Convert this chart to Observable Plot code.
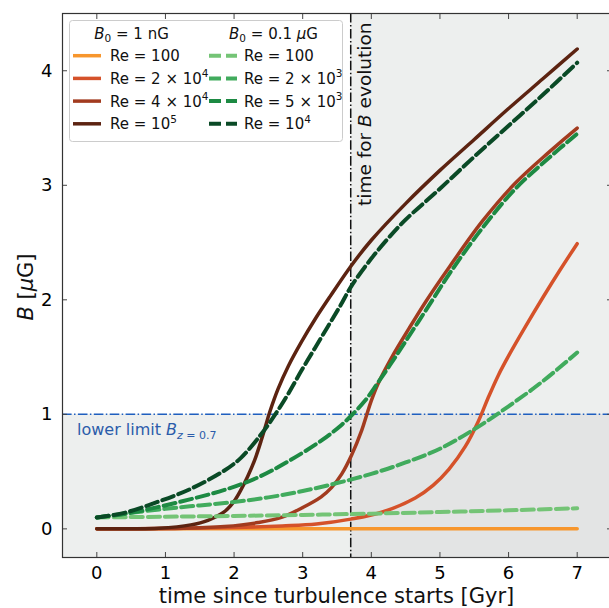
<!DOCTYPE html>
<html>
<head>
<meta charset="utf-8">
<script src="https://cdn.jsdelivr.net/npm/d3@7"></script>
<script src="https://cdn.jsdelivr.net/npm/@observablehq/plot@0.6"></script>
<style>
  html, body { margin: 0; padding: 0; background: #fff; overflow: hidden; }
  #chart svg { font-family: "DejaVu Sans", sans-serif; display: block; }
</style>
</head>
<body>
<div id="chart"></div>
<script>
// ---------- axes ----------
const xTicks = [0, 1, 2, 3, 4, 5, 6, 7];
const yTicks = [0, 1, 2, 3, 4];
const xDomain = [-0.5, 7.5];
const yDomain = [-0.25, 4.5];
const tEvol = 3.7;     // time for B evolution [Gyr]
const bLimit = 1;      // lower limit B_{z=0.7} [muG]

// ---------- B0 = 1 nG (solid) ----------
const t_1nG_re100 = [0, 1, 2, 3, 4, 5, 6, 7];
const b_1nG_re100 = [0, 0, 0, 0, 0, 0, 0, 0];

const t_1nG_re2e4 = [0, 1, 2, 2.7, 3.2, 3.7, 4.15, 4.64, 4.9, 5.13, 5.37, 5.56, 5.7, 5.85, 6.0, 6.25, 6.5, 6.75, 7];
const b_1nG_re2e4 = [0, 0.003, 0.012, 0.026, 0.042, 0.085, 0.145, 0.27, 0.38, 0.52, 0.72, 0.94, 1.14, 1.34, 1.51, 1.77, 2.02, 2.26, 2.49];

const t_1nG_re4e4 = [0, 1, 1.5, 1.86, 2.35, 2.69, 2.98, 3.27, 3.42, 3.57, 3.71, 3.86, 3.93, 4.0, 4.1, 4.3, 4.55, 4.8, 5.13, 5.61, 6.1, 6.59, 7];
const b_1nG_re4e4 = [0, 0.003, 0.01, 0.02, 0.055, 0.1, 0.18, 0.28, 0.36, 0.48, 0.64, 0.86, 0.99, 1.12, 1.27, 1.5, 1.75, 1.99, 2.28, 2.68, 3.02, 3.29, 3.5];

const t_1nG_re1e5 = [0, 0.5, 0.9, 1.37, 1.62, 1.86, 2.0, 2.1, 2.2, 2.3, 2.4, 2.45, 2.52, 2.64, 2.79, 2.98, 3.18, 3.4, 3.71, 4.0, 4.5, 5.0, 5.5, 6.0, 6.5, 7];
const b_1nG_re1e5 = [0, 0.001, 0.005, 0.035, 0.075, 0.15, 0.24, 0.34, 0.46, 0.6, 0.78, 0.88, 1.02, 1.22, 1.42, 1.63, 1.83, 2.03, 2.30, 2.52, 2.84, 3.13, 3.40, 3.67, 3.93, 4.19];

// ---------- B0 = 0.1 muG (dashed) ----------
const t_01uG_re100 = [0, 1, 2, 3, 4, 5, 6, 7];
const b_01uG_re100 = [0.1, 0.106, 0.113, 0.122, 0.133, 0.147, 0.162, 0.18];

const t_01uG_re2e3 = [0, 0.5, 1, 1.5, 2, 2.5, 3, 3.5, 4, 4.5, 5, 5.5, 6, 6.5, 7];
const b_01uG_re2e3 = [0.1, 0.14, 0.175, 0.205, 0.235, 0.275, 0.33, 0.40, 0.48, 0.58, 0.70, 0.87, 1.07, 1.29, 1.54];

const t_01uG_re5e3 = [0, 0.4, 0.885, 1.37, 1.86, 2.35, 2.79, 3.27, 3.57, 3.71, 3.91, 4.1, 4.35, 4.6, 4.85, 5.13, 5.61, 6.1, 6.59, 7];
const b_01uG_re5e3 = [0.1, 0.13, 0.19, 0.26, 0.34, 0.45, 0.59, 0.77, 0.91, 0.99, 1.12, 1.28, 1.50, 1.73, 1.96, 2.22, 2.62, 2.97, 3.24, 3.45];

const t_01uG_re1e4 = [0, 0.4, 0.885, 1.37, 1.86, 2.1, 2.4, 2.59, 2.79, 2.98, 3.18, 3.37, 3.55, 3.71, 4.0, 4.25, 4.5, 5.0, 5.5, 6.0, 6.5, 7];
const b_01uG_re1e4 = [0.099, 0.14, 0.235, 0.35, 0.51, 0.62, 0.83, 0.99, 1.18, 1.38, 1.58, 1.77, 1.95, 2.12, 2.36, 2.54, 2.70, 2.97, 3.25, 3.52, 3.79, 4.07];

// ---------- legend labels ----------
const legendTitles = ["1 nG", "0.1 μG"];
const labels_1nG = [["Re = 100", ""], ["Re = 2 × 10", "4"], ["Re = 4 × 10", "4"], ["Re = 10", "5"]];
const labels_01uG = [["Re = 100", ""], ["Re = 2 × 10", "3"], ["Re = 5 × 10", "3"], ["Re = 10", "4"]];

const colors_1nG = ["#f7962d", "#d5522a", "#a23b1f", "#5c2311"];
const colors_01uG = ["#74c476", "#41ab5d", "#1d8a43", "#0a4a26"];

const series_1nG = [
  [t_1nG_re100, b_1nG_re100], [t_1nG_re2e4, b_1nG_re2e4],
  [t_1nG_re4e4, b_1nG_re4e4], [t_1nG_re1e5, b_1nG_re1e5]
];
const series_01uG = [
  [t_01uG_re100, b_01uG_re100], [t_01uG_re2e3, b_01uG_re2e3],
  [t_01uG_re5e3, b_01uG_re5e3], [t_01uG_re1e4, b_01uG_re1e4]
];

const toRows = ([t, b]) => t.map((v, i) => ({t: v, B: b[i]}));
const dash = "12,5";
const dashDot = "9.6,2.4,1.5,2.4";
const lwSolid = 3.5;
const lwDash = 4;

const solidMarks = series_1nG.map((s, i) =>
  Plot.line(toRows(s), {x: "t", y: "B", stroke: colors_1nG[i], strokeWidth: lwSolid, curve: "catmull-rom"}));
const dashMarks = series_01uG.map((s, i) =>
  Plot.line(toRows(s), {x: "t", y: "B", stroke: colors_01uG[i], strokeWidth: lwDash, strokeDasharray: dash, curve: "catmull-rom"}));

const shadeLight = "#edefee";
const shadeDark = "#e3e4e4";

const plot = Plot.plot({
  width: 611,
  height: 608,
  marginLeft: 62,
  marginRight: 0,
  marginTop: 13,
  marginBottom: 51,
  style: {fontFamily: "DejaVu Sans, sans-serif", fontSize: "18px", color: "#000", background: "#fff"},
  x: {domain: xDomain, label: null},
  y: {domain: yDomain, label: null},
  marks: [
    Plot.rect([0], {x1: tEvol, x2: xDomain[1], y1: bLimit, y2: yDomain[1], fill: shadeLight}),
    Plot.rect([0], {x1: xDomain[0], x2: tEvol, y1: yDomain[0], y2: bLimit, fill: shadeLight}),
    Plot.rect([0], {x1: tEvol, x2: xDomain[1], y1: yDomain[0], y2: bLimit, fill: shadeDark}),
    Plot.ruleY([bLimit], {stroke: "#1f5fbf", strokeWidth: 1.5, strokeDasharray: dashDot}),
    Plot.ruleX([tEvol], {stroke: "#111", strokeWidth: 1.5, strokeDasharray: dashDot}),
    ...solidMarks,
    ...dashMarks,
    Plot.axisX({anchor: "bottom", ticks: xTicks, tickSize: -5, tickPadding: 14, tickFormat: d3.format("d"), label: null, stroke: "#444"}),
    Plot.axisX({anchor: "top", ticks: xTicks, tickSize: -5, tickFormat: () => "", label: null, stroke: "#444"}),
    Plot.axisY({anchor: "left", ticks: yTicks, tickSize: -5, tickPadding: 15, tickFormat: d3.format("d"), label: null, stroke: "#444"}),
    Plot.axisY({anchor: "right", ticks: yTicks, tickSize: -5, tickFormat: () => "", label: null, stroke: "#444"}),
    Plot.frame({stroke: "#333", strokeWidth: 1.2})
  ]
});
plot.style.maxWidth = "none";
document.getElementById("chart").appendChild(plot);

// ---------- annotations, axis labels and legend ----------
const svg = d3.select(plot);
const sx = plot.scale("x"), sy = plot.scale("y");
const font = "DejaVu Sans, sans-serif";

// x label
svg.append("text").attr("x", (sx.apply(xDomain[0]) + sx.apply(xDomain[1])) / 2).attr("y", 603)
  .attr("text-anchor", "middle").attr("font-family", font).attr("font-size", 21).attr("fill", "#111")
  .text("time since turbulence starts [Gyr]");

// y label
const yl = svg.append("text").attr("transform", `translate(33,${(sy.apply(yDomain[0]) + sy.apply(yDomain[1])) / 2 + 2}) rotate(-90)`)
  .attr("text-anchor", "middle").attr("font-family", font).attr("font-size", 21).attr("fill", "#111");
yl.append("tspan").attr("font-style", "italic").text("B");
yl.append("tspan").text(" [");
yl.append("tspan").attr("font-style", "italic").text("μ");
yl.append("tspan").text("G]");

// vertical annotation
const va = svg.append("text").attr("transform", `translate(${sx.apply(tEvol) + 21},206) rotate(-90)`)
  .attr("text-anchor", "start").attr("font-family", font).attr("font-size", 18.5).attr("fill", "#111");
va.append("tspan").text("time for ");
va.append("tspan").attr("font-style", "italic").text("B");
va.append("tspan").text(" evolution");

// lower limit label
const ll = svg.append("text").attr("x", 77).attr("y", sy.apply(bLimit) + 21).attr("text-anchor", "start")
  .attr("font-family", font).attr("font-size", 16).attr("fill", "#2b5caa");
ll.append("tspan").text("lower limit ");
ll.append("tspan").attr("font-style", "italic").text("B");
ll.append("tspan").attr("font-size", 11).attr("dy", 4).attr("font-style", "italic").text("z");
ll.append("tspan").attr("font-size", 11).text(" = 0.7");

// legend
const lg = svg.append("g").attr("font-family", font).attr("font-size", 15).attr("fill", "#111").attr("text-anchor", "start");
lg.append("rect").attr("x", 69.5).attr("y", 20.5).attr("width", 273).attr("height", 121).attr("rx", 3)
  .attr("fill", "#fff").attr("fill-opacity", 0.85).attr("stroke", "#cccccc");
const cols = [
  {title: legendTitles[0], cx: 131.5, hx: 73, tx: 110, labels: labels_1nG, colors: colors_1nG, dashed: false},
  {title: legendTitles[1], cx: 273.5, hx: 209, tx: 244, labels: labels_01uG, colors: colors_01uG, dashed: true}
];
cols.forEach(c => {
  const tt = lg.append("text").attr("x", c.cx).attr("y", 38.5).attr("text-anchor", "middle");
  tt.append("tspan").attr("font-style", "italic").text("B");
  tt.append("tspan").attr("font-size", 10.5).attr("dy", 3).text("0");
  const parts = c.title.split("μ");
  tt.append("tspan").attr("dy", -3).text(" = " + parts[0]);
  if (parts.length > 1) {
    tt.append("tspan").attr("font-style", "italic").text("μ");
    tt.append("tspan").text(parts[1]);
  }
  c.labels.forEach(([base, sup], i) => {
    const yy = 55.7 + i * 22.7;
    lg.append("line").attr("x1", c.hx).attr("x2", c.hx + 28).attr("y1", yy).attr("y2", yy)
      .attr("stroke", c.colors[i]).attr("stroke-width", c.dashed ? lwDash : lwSolid)
      .attr("stroke-dasharray", c.dashed ? dash : null);
    const t = lg.append("text").attr("x", c.tx).attr("y", yy + 5.4).attr("text-anchor", "start");
    t.append("tspan").text(base);
    if (sup) t.append("tspan").attr("font-size", 10.5).attr("dy", -6.5).text(sup);
  });
});
</script>
</body>
</html>
